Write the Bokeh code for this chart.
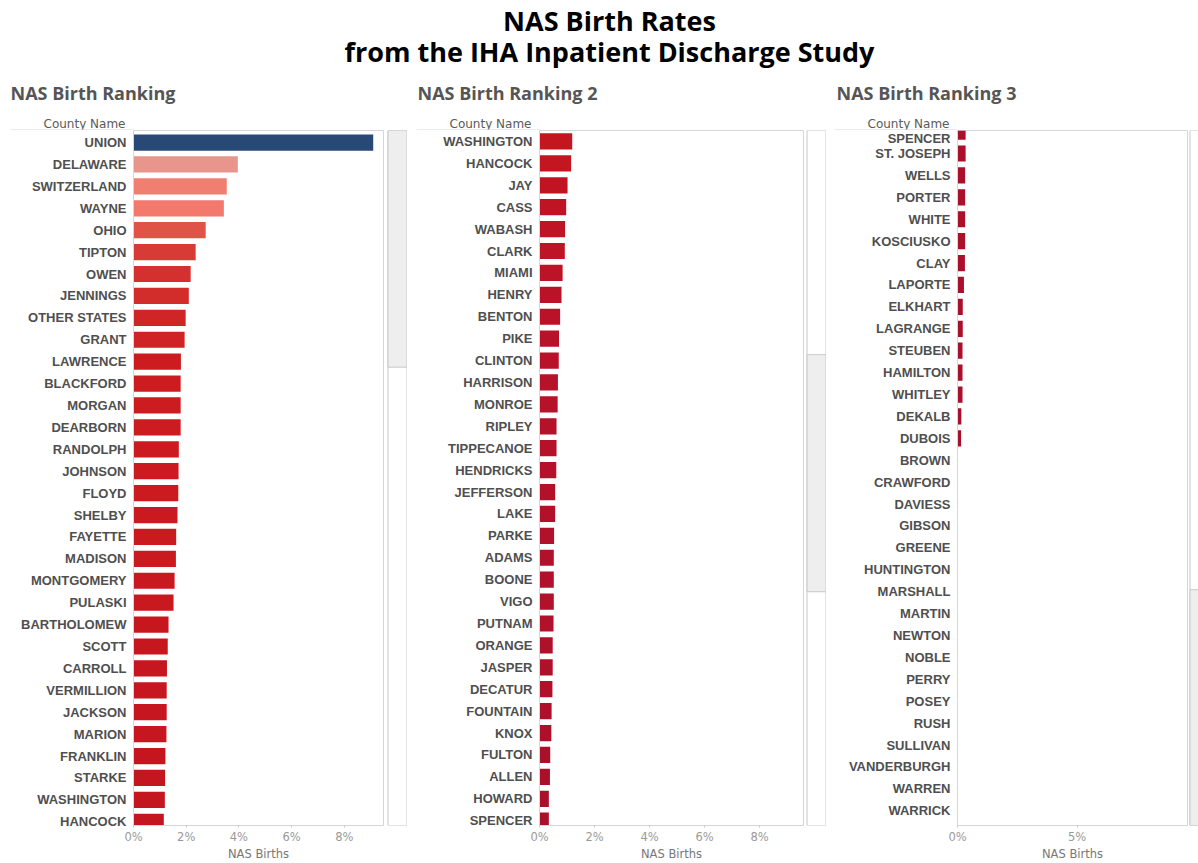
import numpy as np
from bokeh.plotting import figure
from bokeh.models import (ColumnDataSource, Range1d, FixedTicker, PrintfTickFormatter,
                          LinearColorMapper, CDSView, IndexFilter)
from bokeh.transform import transform
from bokeh.layouts import column, row
from bokeh.embed import file_html
from bokeh.resources import INLINE
from bokeh.core.properties import value

# ---------------- data ----------------
counties = [
    "UNION", "DELAWARE", "SWITZERLAND", "WAYNE", "OHIO", "TIPTON", "OWEN", "JENNINGS",
    "OTHER STATES", "GRANT", "LAWRENCE", "BLACKFORD", "MORGAN", "DEARBORN", "RANDOLPH",
    "JOHNSON", "FLOYD", "SHELBY", "FAYETTE", "MADISON", "MONTGOMERY", "PULASKI",
    "BARTHOLOMEW", "SCOTT", "CARROLL", "VERMILLION", "JACKSON", "MARION", "FRANKLIN",
    "STARKE", "WASHINGTON", "HANCOCK",
    "JAY", "CASS", "WABASH", "CLARK", "MIAMI", "HENRY", "BENTON", "PIKE", "CLINTON",
    "HARRISON", "MONROE", "RIPLEY", "TIPPECANOE", "HENDRICKS", "JEFFERSON", "LAKE",
    "PARKE", "ADAMS", "BOONE", "VIGO", "PUTNAM", "ORANGE", "JASPER", "DECATUR",
    "FOUNTAIN", "KNOX", "FULTON", "ALLEN", "HOWARD", "SPENCER",
    "ST. JOSEPH", "WELLS", "PORTER", "WHITE", "KOSCIUSKO", "CLAY", "LAPORTE", "ELKHART",
    "LAGRANGE", "STEUBEN", "HAMILTON", "WHITLEY", "DEKALB", "DUBOIS", "BROWN",
    "CRAWFORD", "DAVIESS", "GIBSON", "GREENE", "HUNTINGTON", "MARSHALL", "MARTIN",
    "NEWTON", "NOBLE", "PERRY", "POSEY", "RUSH", "SULLIVAN", "VANDERBURGH", "WARREN",
    "WARRICK",
]
nas_births = [
    9.10, 3.96, 3.54, 3.43, 2.74, 2.36, 2.17, 2.10,
    1.98, 1.94, 1.80, 1.79, 1.79, 1.79, 1.72,
    1.71, 1.70, 1.67, 1.62, 1.61, 1.56, 1.52,
    1.33, 1.30, 1.27, 1.26, 1.26, 1.25, 1.21,
    1.20, 1.19, 1.15,
    1.02, 0.97, 0.93, 0.92, 0.84, 0.80, 0.75, 0.71, 0.70,
    0.67, 0.66, 0.62, 0.62, 0.61, 0.57, 0.57,
    0.53, 0.52, 0.52, 0.52, 0.51, 0.48, 0.48, 0.47,
    0.44, 0.43, 0.39, 0.38, 0.34, 0.34,
    0.34, 0.32, 0.32, 0.32, 0.32, 0.31, 0.27, 0.22,
    0.22, 0.21, 0.21, 0.21, 0.16, 0.15, 0.0,
    0.0, 0.0, 0.0, 0.0, 0.0, 0.0, 0.0,
    0.0, 0.0, 0.0, 0.0, 0.0, 0.0, 0.0, 0.0,
    0.0,
]
main_title = ["NAS Birth Rates", "from the IHA Inpatient Discharge Study"]
panel_titles = ["NAS Birth Ranking", "NAS Birth Ranking 2", "NAS Birth Ranking 3"]
x_tick_values = [[0, 2, 4, 6, 8], [0, 2, 4, 6, 8], [0, 5]]
axis_title = "NAS Births"
row_header = "County Name"

N = len(counties)
src = ColumnDataSource(dict(idx=list(range(N)), county=counties, value=nas_births))

# ---------------- layout / style ----------------
PAGE_W = 1198
HEADER_H = 130
PANEL_H = 733
BOTTOM_BORDER = 37
VISIBLE_ROWS = 31.72
BAR_H = 0.74
scroll_top = [-0.55, 29.5, 60.95]         # first visible row edge of each scrolled view
x_max = [9.49, 9.6, 9.62]
border_left = [133, 132, 131]
frame_w = [250, 264, 230]
border_right = [3, 2, 1]
sb_width = [21, 21, 10]
title_x = [10, 417, 836]
line_x0 = [10, 416, 834]

# diverging red-blue colour scale
anchor_v = [0.0, 0.35, 0.7, 1.2, 1.8, 2.1, 2.4, 2.75, 3.45, 3.96, 4.6, 9.1]
anchor_c = ["#a50f2d", "#ab102b", "#b8122a", "#c5161f", "#cc1c20", "#d32d2b",
            "#d83e38", "#e05448", "#f37a6c", "#e8968c", "#d9d2d2", "#284876"]
def _rgb(h):
    return [int(h[i:i + 2], 16) for i in (1, 3, 5)]
_ac = np.array([_rgb(c) for c in anchor_c], dtype=float)
_grid = np.linspace(0, max(nas_births), 256)
palette = ["#%02x%02x%02x" % tuple(int(round(np.interp(g, anchor_v, _ac[:, ch]))) for ch in range(3))
           for g in _grid]
mapper = LinearColorMapper(palette=palette, low=0, high=max(nas_births))

panel_left = [0]
for k in range(3):
    w = border_left[k] + frame_w[k] + border_right[k]
    panel_left.append(panel_left[-1] + w + sb_width[k])
frame_left = [panel_left[k] + border_left[k] for k in range(3)]

# ---------------- header ----------------
header = figure(title=None, width=PAGE_W, height=HEADER_H, x_range=Range1d(0, PAGE_W),
                y_range=Range1d(HEADER_H, 0), toolbar_location=None, output_backend="svg",
                x_axis_location=None, y_axis_location=None, min_border=0,
                outline_line_color=None)
header.grid.visible = False
header.text(x=[609, 609], y=[20, 51], text=main_title, text_font=value("Open Sans"),
            text_font_size="27px", text_font_style="bold", text_align="center",
            text_baseline="middle", text_color="#000000")
header.text(x=title_x, y=[92, 92, 92], text=panel_titles, text_font=value("Open Sans"),
            text_font_size="18px", text_font_style="bold", text_align="left",
            text_baseline="middle", text_color="#555555")
header.text(x=[fl - 8 for fl in frame_left], y=[123, 123, 123], text=[row_header] * 3,
            text_font=value("DejaVu Sans"), text_font_size="12px", text_align="right",
            text_baseline="middle", text_color="#5a5a5a")
header.segment(x0=line_x0, y0=[HEADER_H - 0.5] * 3, x1=frame_left, y1=[HEADER_H - 0.5] * 3,
               line_color="#d6d6d6", line_width=1)


def make_panel(k):
    top = scroll_top[k]
    bottom = top + VISIBLE_ROWS
    width = border_left[k] + frame_w[k] + border_right[k]
    p = figure(title=None, width=width, height=PANEL_H,
               x_range=Range1d(0, x_max[k]), y_range=Range1d(bottom, top),
               min_border_left=border_left[k], min_border_right=border_right[k],
               min_border_top=0, min_border_bottom=BOTTOM_BORDER,
               toolbar_location=None, output_backend="svg",
               outline_line_color="#d6d6d6", background_fill_color="#ffffff",
               border_fill_color="#ffffff")
    p.grid.visible = False
    visible = [i for i in range(N) if i + BAR_H / 2 > top and i - BAR_H / 2 < bottom]
    p.hbar(y="idx", left=0, right="value", height=BAR_H, source=src,
           view=CDSView(filter=IndexFilter(visible)),
           fill_color=transform("value", mapper), line_color=None)

    ya = p.yaxis[0]
    ya.ticker = FixedTicker(ticks=list(range(N)))
    ya.major_label_overrides = {i: c for i, c in enumerate(counties)}
    ya.major_tick_out = 0
    ya.major_tick_in = 0
    ya.minor_tick_out = 0
    ya.minor_tick_in = 0
    ya.major_label_standoff = 7
    ya.axis_line_color = "#d6d6d6"
    ya.major_label_text_font = "Liberation Sans"
    ya.major_label_text_font_style = "bold"
    ya.major_label_text_font_size = "13px"
    ya.major_label_text_color = "#4f4f4f"

    xa = p.xaxis[0]
    xa.ticker = FixedTicker(ticks=x_tick_values[k])
    xa.formatter = PrintfTickFormatter(format="%d%%")
    xa.major_tick_out = 2
    xa.major_tick_in = 0
    xa.minor_tick_out = 0
    xa.minor_tick_in = 0
    xa.major_tick_line_color = "#c8c8c8"
    xa.axis_line_color = "#d6d6d6"
    xa.major_label_standoff = 2
    xa.major_label_text_font = "DejaVu Sans"
    xa.major_label_text_font_size = "11.5px"
    xa.major_label_text_color = "#9a9a9a"
    xa.axis_label = axis_title
    xa.axis_label_standoff = 0
    xa.axis_label_text_font = "DejaVu Sans"
    xa.axis_label_text_font_size = "11.5px"
    xa.axis_label_text_font_style = "normal"
    xa.axis_label_text_color = "#777777"
    return p


def make_scrollbar(k):
    w = sb_width[k]
    s = figure(title=None, width=w, height=PANEL_H, x_range=Range1d(0, w),
               y_range=Range1d(N - 0.5, -0.5),
               toolbar_location=None, output_backend="svg", x_axis_location=None,
               y_axis_location=None, min_border_left=0, min_border_right=0,
               min_border_top=0, min_border_bottom=BOTTOM_BORDER, outline_line_color=None)
    s.grid.visible = False
    s.quad(left=[1.5], right=[20.5], top=[-0.5], bottom=[N - 0.5],
           fill_color="#ffffff", line_color="#c8c8c8")
    t0 = max(scroll_top[k], -0.5)
    t1 = min(scroll_top[k] + VISIBLE_ROWS, N - 0.5)
    s.quad(left=[1.5], right=[20.5], top=[t0], bottom=[t1],
           fill_color="#eeeeee", line_color="#c8c8c8")
    return s


children = []
for k in range(3):
    children.append(make_panel(k))
    children.append(make_scrollbar(k))

layout = column(header, row(*children, spacing=0), spacing=0)
open("out.html", "w").write(file_html(layout, INLINE))
